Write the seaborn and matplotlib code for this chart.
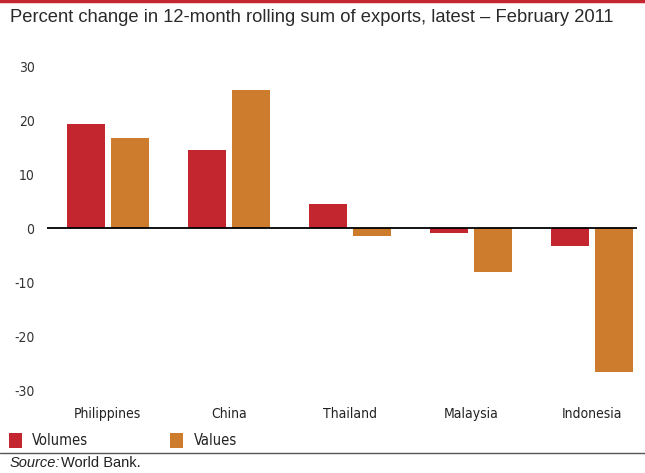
import matplotlib
matplotlib.use("Agg")
import matplotlib.pyplot as plt
import seaborn as sns
import pandas as pd
from matplotlib.lines import Line2D

countries = ["Philippines", "China", "Thailand", "Malaysia", "Indonesia"]
volumes = [19.2, 14.4, 4.5, -1.0, -3.4]
values = [16.6, 25.5, -1.5, -8.2, -26.7]
yticks = [-30, -20, -10, 0, 10, 20, 30]
series_names = ["Volumes", "Values"]

df = pd.DataFrame({
    "country": countries * 2,
    "series": [series_names[0]] * len(countries) + [series_names[1]] * len(countries),
    "pct": volumes + values,
})

sns.set_theme(style="white")
plt.rcParams['font.family'] = ['DejaVu Sans']
plt.rcParams['font.stretch'] = 'condensed'

RED = "#C4262F"
ORANGE = "#CD7B2C"

fig = plt.figure(figsize=(6.45, 4.73), dpi=100)
ax = fig.add_axes([47/645, 1-390/473, (637-47)/645, (390-66)/473])

sns.barplot(data=df, x="country", y="pct", hue="series", order=countries,
            hue_order=series_names, palette=[RED, ORANGE], width=0.727, gap=0.136,
            saturation=1, ax=ax, errorbar=None, linewidth=0)

ax.set_xlim(-0.5, 4.37)
ax.set_ylim(-30, 30)
ax.set_yticks(yticks)
ax.set_yticklabels([str(t) for t in yticks], fontsize=10, color="#333333")
ax.tick_params(axis="y", length=0, pad=9)
ax.tick_params(axis="x", length=0, pad=12, labelsize=10, labelcolor="#222222")
ax.set_xlabel("")
ax.set_ylabel("")
for s in ax.spines.values():
    s.set_visible(False)
ax.axhline(0, color="black", lw=1.3, zorder=3)

sns.move_legend(ax, "lower left", bbox_to_anchor=(9/645, 1-448/473),
                bbox_transform=fig.transFigure, ncol=2, frameon=False, title=None,
                fontsize=10.5, handlelength=0.9, handleheight=1.2, handletextpad=0.7,
                columnspacing=5.6, borderpad=0, borderaxespad=0)
for t in ax.get_legend().get_texts():
    t.set_color("#222222")

# title
fig.text(10/645, 1-18/473, "Percent change in 12-month rolling sum of exports, latest \u2013 February 2011",
         fontsize=13.2, va="center", ha="left", color="#2a2a2a",
         family=['Liberation Sans', 'DejaVu Sans'], stretch='normal')

# source
fig.text(10/645, 1-463/473, "Source:", fontsize=10.5, style="italic", va="center", ha="left",
         color="#222222", family=['Liberation Sans', 'DejaVu Sans'], stretch='normal')
fig.text(61/645, 1-463/473, "World Bank.", fontsize=10.5, va="center", ha="left",
         color="#222222", family=['Liberation Sans', 'DejaVu Sans'], stretch='normal')

# decorative rules
fig.add_artist(Line2D([0, 1], [1-1/473, 1-1/473], color=RED, lw=2.5, transform=fig.transFigure))
fig.add_artist(Line2D([0, 1], [1-453/473, 1-453/473], color="#555555", lw=1.0, transform=fig.transFigure))

fig.savefig("out.png", dpi=100)
